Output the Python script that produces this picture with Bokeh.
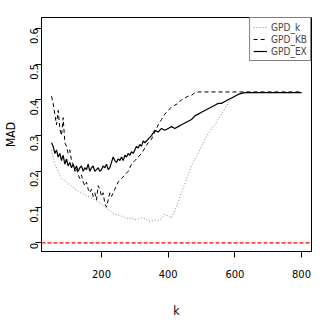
import math
from bokeh.plotting import figure
from bokeh.models import Span, FixedTicker, Legend, LegendItem, Range1d
from bokeh.embed import file_html
from bokeh.resources import INLINE

# GPD_k (dotted)
k_k = [50, 60, 70, 80, 90, 100, 110, 120, 130, 140, 150, 160, 170, 180, 190, 200,
       210, 220, 230, 240, 250, 260, 270, 280, 290, 300, 310, 320, 330, 340, 350,
       360, 370, 380, 390, 400, 410, 420, 430, 440, 450, 460, 470, 480, 490, 500,
       510, 520, 530, 540, 550, 560, 570, 580, 590, 600, 610, 620, 630, 640, 800]
mad_k = [0.26, 0.22, 0.20, 0.18, 0.175, 0.165, 0.16, 0.15, 0.145, 0.14, 0.135, 0.13,
         0.125, 0.12, 0.115, 0.11, 0.10, 0.095, 0.085, 0.08, 0.078, 0.075, 0.07,
         0.068, 0.07, 0.065, 0.066, 0.07, 0.068, 0.062, 0.06, 0.064, 0.062, 0.068,
         0.08, 0.075, 0.07, 0.09, 0.115, 0.14, 0.165, 0.19, 0.215, 0.235, 0.25,
         0.27, 0.29, 0.305, 0.32, 0.33, 0.345, 0.36, 0.375, 0.39, 0.40, 0.41, 0.415,
         0.418, 0.42, 0.42, 0.42]

# GPD_KB (dashed)
k_kb = [50, 55, 60, 65, 70, 75, 80, 85, 90, 95, 100, 105, 110, 115, 120, 125, 130,
        135, 140, 145, 150, 155, 160, 165, 170, 175, 180, 185, 190, 195, 200, 205,
        210, 215, 220, 225, 230, 240, 250, 260, 270, 280, 290, 300, 310, 320, 330,
        340, 350, 360, 370, 380, 390, 400, 410, 420, 430, 440, 450, 460, 470, 480,
        490, 800]
mad_kb = [0.41, 0.39, 0.36, 0.33, 0.37, 0.32, 0.30, 0.35, 0.28, 0.27, 0.25, 0.26,
          0.23, 0.22, 0.20, 0.21, 0.19, 0.18, 0.19, 0.17, 0.16, 0.17, 0.15, 0.14,
          0.15, 0.13, 0.14, 0.12, 0.16, 0.15, 0.13, 0.14, 0.11, 0.10, 0.12, 0.14,
          0.13, 0.15, 0.17, 0.18, 0.19, 0.20, 0.22, 0.23, 0.24, 0.25, 0.265, 0.28,
          0.29, 0.31, 0.33, 0.345, 0.36, 0.37, 0.38, 0.385, 0.39, 0.40, 0.405,
          0.41, 0.412, 0.42, 0.422, 0.422]

# GPD_EX (solid)
k_ex = [50, 55, 60, 65, 70, 75, 80, 85, 90, 95, 100, 105, 110, 115, 120, 125, 130,
        135, 140, 145, 150, 155, 160, 165, 170, 175, 180, 185, 190, 195, 200, 205,
        210, 215, 220, 225, 230, 235, 240, 245, 250, 255, 260, 265, 270, 275, 280,
        285, 290, 295, 300, 305, 310, 315, 320, 325, 330, 340, 350, 360, 370, 380,
        390, 400, 410, 420, 430, 440, 450, 460, 470, 480, 490, 500, 510, 520, 530,
        540, 550, 560, 570, 580, 590, 600, 610, 620, 630, 800]
mad_ex = [0.28, 0.27, 0.25, 0.26, 0.24, 0.25, 0.23, 0.245, 0.22, 0.235, 0.215, 0.225,
          0.21, 0.22, 0.205, 0.215, 0.20, 0.21, 0.215, 0.20, 0.21, 0.205, 0.22, 0.20,
          0.21, 0.215, 0.20, 0.205, 0.21, 0.20, 0.205, 0.215, 0.21, 0.22, 0.205,
          0.21, 0.225, 0.24, 0.23, 0.225, 0.235, 0.23, 0.24, 0.23, 0.245, 0.24,
          0.25, 0.245, 0.255, 0.25, 0.26, 0.27, 0.265, 0.275, 0.27, 0.285, 0.28,
          0.29, 0.30, 0.315, 0.31, 0.32, 0.315, 0.32, 0.325, 0.32, 0.325, 0.33,
          0.335, 0.34, 0.345, 0.355, 0.36, 0.365, 0.37, 0.375, 0.38, 0.385, 0.39,
          0.39, 0.395, 0.40, 0.405, 0.41, 0.415, 0.418, 0.42, 0.42]

x_ticks = [200, 400, 600, 800]
y_ticks = [0.0, 0.1, 0.2, 0.3, 0.4, 0.5, 0.6]
ref_level = 0.0

FONT = "DejaVu Sans Condensed"

p = figure(width=316, height=324, output_backend="svg", toolbar_location=None,
           x_range=Range1d(20, 830), y_range=Range1d(-0.024, 0.63),
           min_border_left=41, min_border_top=17, min_border_right=5,
           min_border_bottom=73)
p.grid.visible = False
p.outline_line_color = "black"
p.outline_line_width = 1

r_k = p.line(k_k, mad_k, line_color="#888888", line_dash="1 2", line_width=1)
r_kb = p.line(k_kb, mad_kb, line_color="black", line_dash="4 3", line_width=1)
r_ex = p.line(k_ex, mad_ex, line_color="black", line_width=1.2)

p.add_layout(Span(location=ref_level, dimension="width", line_color="red",
                  line_dash="4 2", line_width=1.3))

for ax in (p.xaxis[0], p.yaxis[0]):
    ax.minor_tick_line_color = None
    ax.major_tick_in = 0
    ax.major_tick_out = 6
    ax.major_tick_line_color = "black"
    ax.major_label_text_font = FONT
    ax.major_label_text_font_size = "11px"
    ax.major_label_text_color = "black"
    ax.axis_label_text_font = FONT
    ax.axis_label_text_font_style = "normal"
    ax.axis_label_text_font_size = "12px"
    ax.axis_label_text_color = "black"
    ax.axis_line_color = "black"

p.xaxis.ticker = FixedTicker(ticks=x_ticks)
p.yaxis.ticker = FixedTicker(ticks=y_ticks)
p.xaxis.axis_label = "k"
p.yaxis.axis_label = "MAD"
p.yaxis.major_label_orientation = math.pi / 2
p.xaxis.major_label_standoff = 12
p.xaxis.axis_label_standoff = 23
p.yaxis.major_label_standoff = 1
p.yaxis.axis_label_standoff = 6

legend = Legend(items=[LegendItem(label="GPD_k", renderers=[r_k]),
                       LegendItem(label="GPD_KB", renderers=[r_kb]),
                       LegendItem(label="GPD_EX", renderers=[r_ex])],
                location="top_right", margin=0, padding=3, spacing=0,
                label_text_font=FONT, label_text_font_size="10px",
                label_height=12, glyph_height=12, glyph_width=14,
                label_standoff=4, border_line_color="black",
                background_fill_alpha=1)
p.add_layout(legend)

open("out.html", "w").write(file_html(p, INLINE))
